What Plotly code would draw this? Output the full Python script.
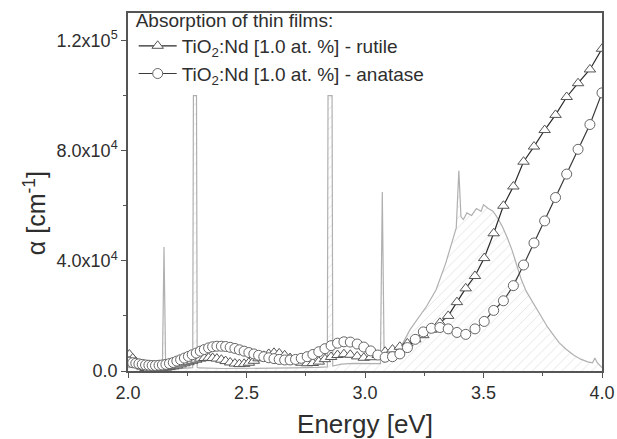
import plotly.graph_objects as go

# Photon energy grid of the absorption measurements (eV)
energy_ev = [
    2.006, 2.020, 2.033, 2.046, 2.060, 2.074, 2.088, 2.102, 2.116, 2.131,
    2.145, 2.160, 2.175, 2.191, 2.206, 2.222, 2.238, 2.255, 2.271, 2.288,
    2.305, 2.322, 2.340, 2.357, 2.375, 2.394, 2.412, 2.431, 2.451, 2.470,
    2.490, 2.510, 2.531, 2.551, 2.573, 2.594, 2.616, 2.638, 2.661, 2.684,
    2.707, 2.731, 2.756, 2.780, 2.805, 2.831, 2.857, 2.884, 2.911, 2.938,
    2.967, 2.995, 3.024, 3.054, 3.085, 3.116, 3.147, 3.179, 3.212, 3.246,
    3.280, 3.316, 3.351, 3.388, 3.425, 3.464, 3.503, 3.543, 3.584, 3.626,
    3.669, 3.713, 3.758, 3.804, 3.851, 3.899, 3.949, 4.000,
]

# Absorption coefficient, rutile film (cm^-1)
alpha_rutile = [
    6000, 4600, 3300, 2300, 1600, 1100, 900, 800, 800, 900,
    1000, 1200, 1400, 1700, 2000, 2400, 2800, 3200, 3700, 4100,
    4500, 4700, 4800, 4700, 4500, 4100, 3600, 3100, 2700, 2500,
    2600, 3000, 3700, 4600, 5500, 6200, 6600, 6400, 5700, 4700,
    3700, 3000, 2800, 2900, 3400, 4300, 5100, 5800, 6100, 5900,
    5300, 4800, 5000, 5800, 7000, 7800, 8800, 10000, 11500, 13000,
    15000, 17500, 20000, 25000, 30000, 34500, 41000, 50000, 60000, 67000,
    76000, 81500, 87500, 93000, 99500, 104500, 109500, 117000,
]

# Absorption coefficient, anatase film (cm^-1)
alpha_anatase = [
    3200, 3000, 2800, 2600, 2400, 2200, 2100, 2000, 2000, 2100,
    2200, 2400, 2700, 3100, 3600, 4100, 4700, 5300, 5900, 6500,
    7200, 7800, 8400, 8800, 9000, 9000, 8900, 8600, 8200, 7700,
    7200, 6700, 6200, 5700, 5200, 4800, 4500, 4200, 4000, 4000,
    4200, 4600, 5200, 6000, 7000, 8100, 9200, 10100, 10600, 10500,
    9800, 8700, 7300, 5800, 5000, 5200, 6200, 8500, 11500, 14200,
    15500, 15800, 15300, 14000, 13300, 15300, 18000, 22000, 25500, 31000,
    38500, 46500, 54500, 63000, 71500, 80500, 89500, 101000,
]

# Emission spectrum drawn as the hatched background curve
pl_energy = [
    2.000, 2.050, 2.100, 2.145, 2.152, 2.159, 2.200, 2.250, 2.273, 2.276,
    2.289, 2.292, 2.300, 2.400, 2.500, 2.600, 2.700, 2.800, 2.841, 2.844,
    2.861, 2.864, 2.900, 2.950, 3.000, 3.050, 3.065, 3.073, 3.081, 3.100,
    3.150, 3.190, 3.220, 3.260, 3.300, 3.340, 3.370, 3.385, 3.396, 3.405,
    3.415, 3.430, 3.450, 3.470, 3.490, 3.500, 3.520, 3.540, 3.560, 3.580,
    3.600, 3.620, 3.640, 3.660, 3.680, 3.710, 3.740, 3.770, 3.800, 3.820,
    3.850, 3.880, 3.910, 3.940, 3.960, 3.970, 3.980, 4.000,
]
pl_alpha = [
    1800, 1100, 800, 800, 45000, 900, 800, 900, 1200, 100000,
    100000, 1300, 1100, 900, 900, 1000, 1100, 1300, 1500, 100000,
    100000, 1800, 2500, 2800, 2800, 2700, 2700, 65000, 3200, 4000,
    8500, 15000, 18500, 23500, 29500, 39000, 47600, 52000, 72700, 56000,
    55000, 57400, 56500, 59000, 58000, 60400, 59000, 58000, 55500, 52400,
    48500, 44000, 38500, 33100, 29000, 24700, 20000, 16000, 12500, 10200,
    7800, 5800, 4300, 3300, 3000, 4700, 3000, 1200,
]

x_tickvals = [2.0, 2.5, 3.0, 3.5, 4.0]
x_ticktext = ["2.0", "2.5", "3.0", "3.5", "4.0"]
y_tickvals = [0, 40000, 80000, 120000]
y_ticktext = ["0.0", "4.0x10<sup>4</sup>", "8.0x10<sup>4</sup>", "1.2x10<sup>5</sup>"]

legend_title = "Absorption of thin films:"
name_rutile = "TiO<sub>2</sub>:Nd [1.0 at. %] - rutile"
name_anatase = "TiO<sub>2</sub>:Nd [1.0 at. %] - anatase"
x_title = "Energy [eV]"
y_title = "α [cm<sup>-1</sup>]"

FONT = "Arial, 'Liberation Sans', sans-serif"
TXT = "#2e2e2e"

fig = go.Figure()

fig.add_trace(go.Scatter(
    x=pl_energy, y=pl_alpha, mode="lines",
    line=dict(color="#b0b0b0", width=1.2),
    fill="tozeroy", fillcolor="rgba(255,255,255,0)",
    fillpattern=dict(shape="/", fgcolor="#c0c0c0", bgcolor="rgba(255,255,255,0)",
                     size=7, solidity=0.12, fillmode="overlay"),
    showlegend=False, hoverinfo="skip",
))

fig.add_trace(go.Scatter(
    x=energy_ev, y=alpha_rutile, mode="lines+markers", name=name_rutile,
    line=dict(color="#2a2a2a", width=1.2),
    marker=dict(symbol="triangle-up", size=10, color="white",
                line=dict(color="#555555", width=1)),
))

fig.add_trace(go.Scatter(
    x=energy_ev, y=alpha_anatase, mode="lines+markers", name=name_anatase,
    line=dict(color="#3a3a3a", width=1.2),
    marker=dict(symbol="circle", size=10, color="white",
                line=dict(color="#666666", width=1)),
))

axis_common = dict(
    showline=True, mirror=True, linecolor="#555555", linewidth=1.5,
    showgrid=False, zeroline=False, ticks="outside", ticklen=5,
    tickwidth=1, tickcolor="#555555", automargin=False,
    tickfont=dict(family=FONT, size=18, color=TXT),
)

fig.update_xaxes(
    range=[2.0, 4.0], tickvals=x_tickvals, ticktext=x_ticktext,
    minor=dict(ticks="outside", ticklen=3, dtick=0.25, tick0=2.0, tickcolor="#555555"),
    title=dict(text=x_title, font=dict(family=FONT, size=26, color=TXT), standoff=12),
    **axis_common,
)
fig.update_yaxes(
    range=[0, 130000], tickvals=y_tickvals, ticktext=y_ticktext,
    minor=dict(ticks="outside", ticklen=3, dtick=20000, tick0=0, tickcolor="#555555"),
    **axis_common,
)

fig.add_annotation(
    text=y_title, xref="paper", yref="paper", x=-0.196, y=0.441,
    textangle=-90, showarrow=False, xanchor="center", yanchor="middle",
    font=dict(family=FONT, size=25, color=TXT),
)

fig.update_layout(
    width=617, height=439,
    margin=dict(l=128, r=15, t=13, b=68, autoexpand=False),
    plot_bgcolor="white", paper_bgcolor="white",
    font=dict(family=FONT, color=TXT),
    legend=dict(
        title=dict(text=legend_title, font=dict(family=FONT, size=19, color=TXT)),
        font=dict(family=FONT, size=19, color=TXT),
        x=0.012, y=1.03, xanchor="left", yanchor="top",
        itemwidth=38, bgcolor="rgba(0,0,0,0)", borderwidth=0, tracegroupgap=0,
    ),
)

fig.write_html("out.html")
